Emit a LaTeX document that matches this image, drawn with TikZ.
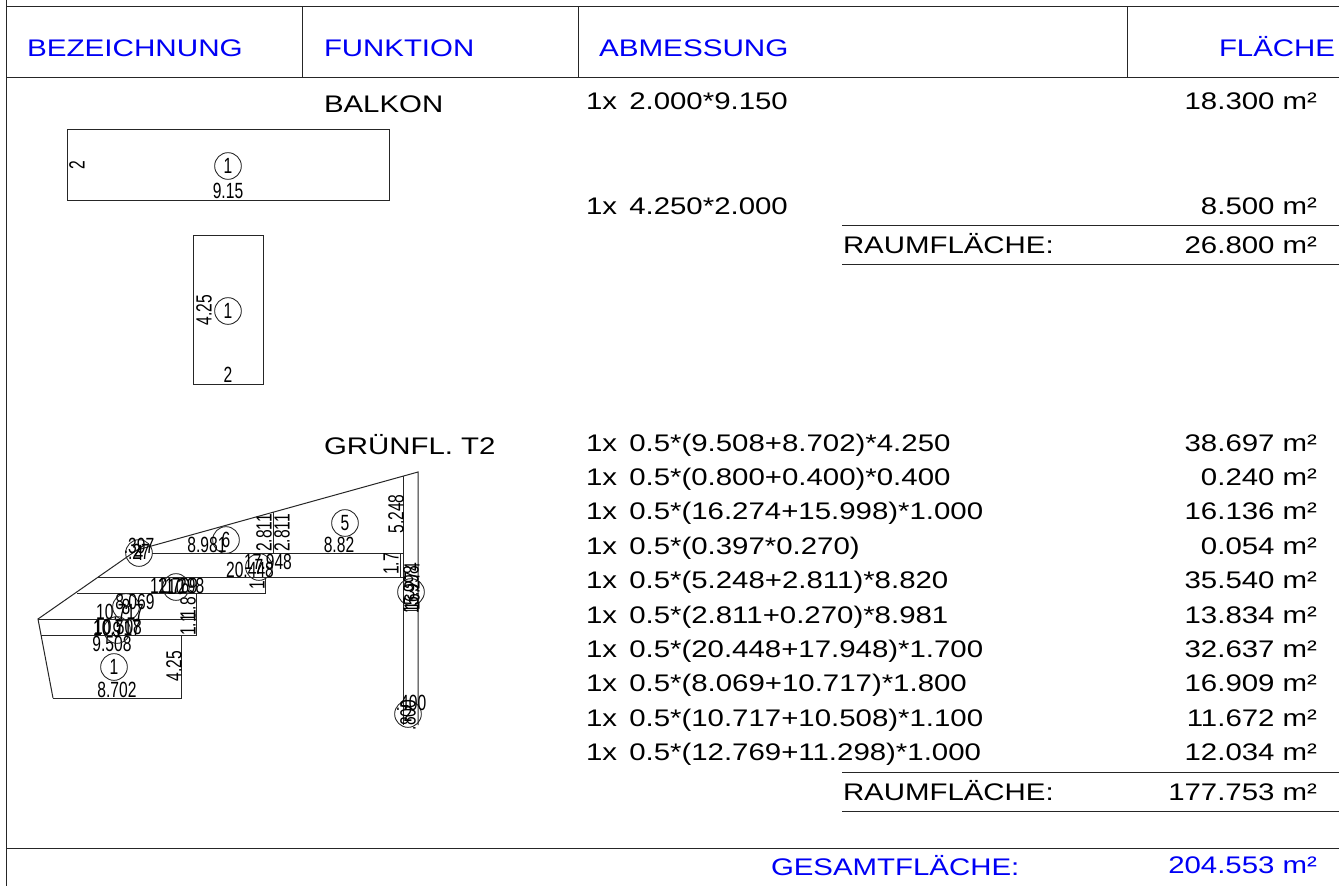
\documentclass[tikz,border=0pt]{standalone}
\usepackage{fontspec}
\setmainfont{Liberation Sans}
\definecolor{headblue}{RGB}{0,0,245}
\newcommand{\tabtext}[1]{\scalebox{1.225}[1]{#1}}
\newcommand{\cadtext}[1]{\scalebox{.71}[1]{#1}}
\newcommand{\lx}{1x\kern2.5pt\ }
\tikzset{
 x=.75pt,y=-.75pt,
 rule/.style={draw=black!85,line width=.75pt},
 tt/.style={inner sep=0pt,outer sep=0pt,font=\fontsize{18pt}{20pt}\selectfont},
 lft/.style={tt,anchor=base west},
 rgt/.style={tt,anchor=base east},
 head/.style={text=headblue},
 cad/.style={inner sep=0pt,outer sep=0pt,font=\fontsize{16.5pt}{17pt}\selectfont},
 num/.style={draw=black!85,line width=.65pt,circle,minimum size=20pt,inner sep=0pt,outer sep=0pt,font=\fontsize{16.5pt}{17pt}\selectfont},
}
\begin{document}
\begin{tikzpicture}
\useasboundingbox (0,0) rectangle (1340,886);
\fill[white] (0,0) rectangle (1340,886);
% frame
\draw[rule] (6,0) -- (6,886);
\draw[rule] (6,6.5) -- (1339,6.5);
\draw[rule] (6,77) -- (1339,77);
\draw[rule] (6,848) -- (1339,848);
\draw[rule] (302,6.5) -- (302,77);
\draw[rule] (578,6.5) -- (578,77);
\draw[rule] (1127,6.5) -- (1127,77);
\draw[rule] (842,225) -- (1339,225);
\draw[rule] (842,264) -- (1339,264);
\draw[rule] (842,772) -- (1339,772);
\draw[rule] (842,811) -- (1339,811);
% header
\node[lft,head] (h1) at (27,56) {\scalebox{1.235}[1]{BEZEICHNUNG}};
\node[lft,head] (h2) at (324,56) {\tabtext{FUNKTION}};
\node[lft,head] (h3) at (599,56) {\scalebox{1.235}[1]{ABMESSUNG}};
\node[rgt,head] (h4) at (1335,56) {\tabtext{FLÄCHE}};
% functions
\node[lft] (f1) at (324,112) {\tabtext{BALKON}};
\node[lft] (f2) at (324,454) {\tabtext{GRÜNFL. T2}};
% rows
\node[lft] (a1) at (586,109) {\tabtext{\lx 2.000*9.150}};
\node[rgt] (b1) at (1317,109) {\tabtext{18.300 m²}};
\node[lft] (a2) at (586,214) {\tabtext{\lx 4.250*2.000}};
\node[rgt] (b2) at (1317,214) {\tabtext{8.500 m²}};
\node[lft] (r1) at (843,253) {\tabtext{RAUMFLÄCHE:}};
\node[rgt] (s1) at (1317,253) {\tabtext{26.800 m²}};
\node[lft] (c1) at (586,451) {\tabtext{\lx 0.5*(9.508+8.702)*4.250}};
\node[rgt] (d1) at (1317,451) {\tabtext{38.697 m²}};
\node[lft] (c2) at (586,485.4) {\tabtext{\lx 0.5*(0.800+0.400)*0.400}};
\node[rgt] (d2) at (1317,485.4) {\tabtext{0.240 m²}};
\node[lft] (c3) at (586,519.8) {\tabtext{\lx 0.5*(16.274+15.998)*1.000}};
\node[rgt] (d3) at (1317,519.8) {\tabtext{16.136 m²}};
\node[lft] (c4) at (586,554.2) {\tabtext{\lx 0.5*(0.397*0.270)}};
\node[rgt] (d4) at (1317,554.2) {\tabtext{0.054 m²}};
\node[lft] (c5) at (586,588.6) {\tabtext{\lx 0.5*(5.248+2.811)*8.820}};
\node[rgt] (d5) at (1317,588.6) {\tabtext{35.540 m²}};
\node[lft] (c6) at (586,623) {\tabtext{\lx 0.5*(2.811+0.270)*8.981}};
\node[rgt] (d6) at (1317,623) {\tabtext{13.834 m²}};
\node[lft] (c7) at (586,657.4) {\tabtext{\lx 0.5*(20.448+17.948)*1.700}};
\node[rgt] (d7) at (1317,657.4) {\tabtext{32.637 m²}};
\node[lft] (c8) at (586,691.8) {\tabtext{\lx 0.5*(8.069+10.717)*1.800}};
\node[rgt] (d8) at (1317,691.8) {\tabtext{16.909 m²}};
\node[lft] (c9) at (586,726.2) {\tabtext{\lx 0.5*(10.717+10.508)*1.100}};
\node[rgt] (d9) at (1317,726.2) {\tabtext{11.672 m²}};
\node[lft] (c10) at (586,760.6) {\tabtext{\lx 0.5*(12.769+11.298)*1.000}};
\node[rgt] (d10) at (1317,760.6) {\tabtext{12.034 m²}};
\node[lft] (r2) at (843,800) {\tabtext{RAUMFLÄCHE:}};
\node[rgt] (s2) at (1317,800) {\tabtext{177.753 m²}};
\node[lft,head] (g1) at (771,875) {\tabtext{GESAMTFLÄCHE:}};
\node[rgt,head] (g2) at (1317,873) {\tabtext{204.553 m²}};
% balcony sketches
\draw[rule] (67,129) rectangle (389,200);
\draw[rule] (193,235) rectangle (263,384);
\node[num] (n1) at (228,166) {\cadtext{1}};
\node[cad] (t1) at (228,191) {\cadtext{9.15}};
\node[cad,rotate=90] (t2) at (77,165) {\cadtext{2}};
\node[num] (n2) at (228,311) {\cadtext{1}};
\node[cad,rotate=90] (t3) at (204,310) {\cadtext{4.25}};
\node[cad] (t4) at (228,375) {\cadtext{2}};
% green area outline
\draw[rule] (53,698) -- (38,619) -- (137,550) -- (418,472) -- (418,725);
\draw[rule] (53,698) -- (181,698) -- (181,635);
\draw[rule] (38,619) -- (196,619);
\draw[rule] (41,635) -- (196,635) -- (196,593);
\draw[rule] (77,593) -- (265,593) -- (265,577);
\draw[rule] (98,577) -- (403,577);
\draw[rule] (152,553) -- (403,553);
\draw[rule] (273,512) -- (273,553);
\draw[rule] (403,476) -- (403,725);
\draw[rule] (400,553) -- (400,577);
\draw[rule] (403,610) -- (418,610);
% dimension labels
\node[num] (m1) at (114,667) {\cadtext{1}};
\node[cad] (l1) at (117,690) {\cadtext{8.702}};
\node[cad] (l2) at (112,644) {\cadtext{9.508}};
\node[cad,rotate=90] (l3) at (174,666) {\cadtext{4.25}};
\node[num] (m2) at (117,630) {\cadtext{9}};
\node[cad] (l4) at (118,627) {\cadtext{10.508}};
\node[cad] (l5) at (117,628) {\cadtext{10.717}};
\node[cad,rotate=90] (l6) at (188,625) {\cadtext{1.1}};
\node[num] (m3) at (126,607) {\cadtext{8}};
\node[cad] (l7) at (135,602) {\cadtext{8.069}};
\node[cad] (l8) at (120,612) {\cadtext{10.717}};
\node[cad,rotate=90] (l9) at (188,608) {\cadtext{1.8}};
\node[num] (m4) at (176,587) {\cadtext{10}};
\node[cad] (l10) at (174,586) {\cadtext{12.769}};
\node[cad] (l11) at (181,586) {\cadtext{11.298}};
\node[cad,rotate=90] (l12) at (257,585) {\cadtext{1}};
\node[num] (m5) at (139,553) {\cadtext{4}};
\node[cad] (l13) at (139,546) {\cadtext{.397}};
\node[cad] (l14) at (139,552) {\cadtext{.27}};
\node[num] (m6) at (226,540) {\cadtext{6}};
\node[cad] (l15) at (207,545) {\cadtext{8.981}};
\node[cad,rotate=90] (l16) at (264,533) {\cadtext{2.811}};
\node[cad,rotate=90] (l17) at (282,533) {\cadtext{2.811}};
\node[num] (m7) at (259,567) {\cadtext{7}};
\node[cad] (l18) at (268,562) {\cadtext{17.948}};
\node[cad] (l19) at (250,570) {\cadtext{20.448}};
\node[num] (m8) at (345,523) {\cadtext{5}};
\node[cad] (l20) at (339,545) {\cadtext{8.82}};
\node[cad,rotate=90] (l21) at (396,514) {\cadtext{5.248}};
\node[cad,rotate=90] (l22) at (391,564) {\cadtext{1.7}};
\node[num] (m9) at (411,592) {\cadtext{3}};
\node[cad,rotate=90] (l23) at (412,587) {\cadtext{16.274}};
\node[cad,rotate=90] (l24) at (411,590) {\cadtext{15.998}};
\node[num] (m10) at (408,714) {\cadtext{2}};
\node[cad] (l25) at (411,703) {\cadtext{.400}};
\node[cad,rotate=90] (l26) at (408,715) {\cadtext{.800}};
\end{tikzpicture}
\end{document}
